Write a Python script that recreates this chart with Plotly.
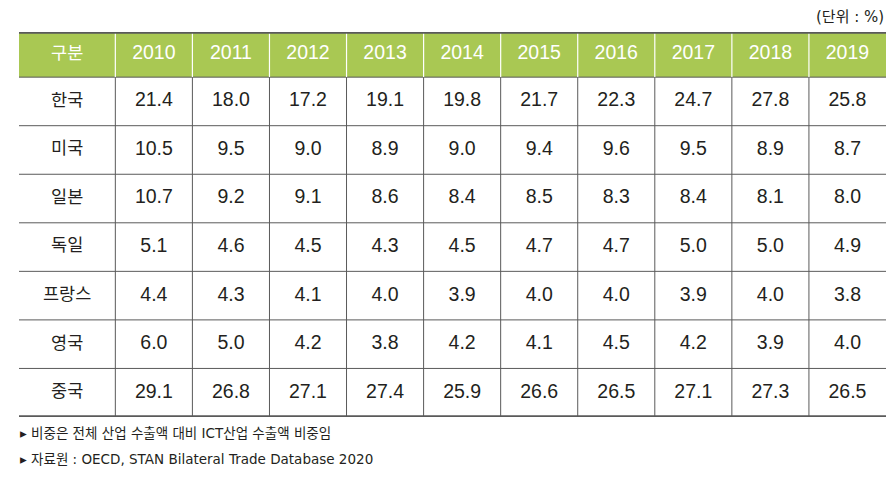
import plotly.graph_objects as go
import numpy as np

header_first = "구분"
years = ["2010", "2011", "2012", "2013", "2014", "2015", "2016", "2017", "2018", "2019"]
countries = ["한국", "미국", "일본", "독일", "프랑스", "영국", "중국"]
korea = [21.4, 18.0, 17.2, 19.1, 19.8, 21.7, 22.3, 24.7, 27.8, 25.8]
usa = [10.5, 9.5, 9.0, 8.9, 9.0, 9.4, 9.6, 9.5, 8.9, 8.7]
japan = [10.7, 9.2, 9.1, 8.6, 8.4, 8.5, 8.3, 8.4, 8.1, 8.0]
germany = [5.1, 4.6, 4.5, 4.3, 4.5, 4.7, 4.7, 5.0, 5.0, 4.9]
france = [4.4, 4.3, 4.1, 4.0, 3.9, 4.0, 4.0, 3.9, 4.0, 3.8]
uk = [6.0, 5.0, 4.2, 3.8, 4.2, 4.1, 4.5, 4.2, 3.9, 4.0]
china = [29.1, 26.8, 27.1, 27.4, 25.9, 26.6, 26.5, 27.1, 27.3, 26.5]
rows = [korea, usa, japan, germany, france, uk, china]
unit_text = "(단위 : %)"
notes = ["비중은 전체 산업 수출액 대비 ICT산업 수출액 비중임",
         "자료원 : OECD, STAN Bilateral Trade Database 2020"]

PAGE_W, PAGE_H = 895, 477
OFF = 8  # default body margin of the html page
W, H = PAGE_W - OFF, PAGE_H - OFF
GREEN = "#a9c853"
LINE = "#5a5a5a"
TEXT = "#231f20"
NUM_FONT = "Liberation Sans, Arial, sans-serif"
KR_FONT = "Noto Sans CJK KR, sans-serif"
NOTE_FONT = "DejaVu Sans, Noto Sans CJK KR, sans-serif"


def px_x(v):
    return (v - OFF) / W


def px_y(v):
    return 1 - (v - OFF) / H


col_widths = [1.25] + [1.0] * len(years)
x_edges = np.concatenate([[0], np.cumsum(col_widths)])
x_centers = (x_edges[:-1] + x_edges[1:]) / 2
row_heights = [0.93] + [1.0] * len(countries)
y_edges = np.concatenate([[0], np.cumsum(row_heights)])
y_centers = (y_edges[:-1] + y_edges[1:]) / 2
XT, YT = x_edges[-1], y_edges[-1]

fig = go.Figure()

fig.add_trace(go.Scatter(x=list(x_centers[1:]), y=[y_centers[0]] * len(years), text=years,
                         mode="text", textfont=dict(family=NUM_FONT, size=19.5, color="white"),
                         hoverinfo="skip", showlegend=False))
fig.add_trace(go.Scatter(x=[x_centers[0]], y=[y_centers[0]], text=[header_first],
                         mode="text", textfont=dict(family=KR_FONT, size=17.5, color="white"),
                         hoverinfo="skip", showlegend=False))
fig.add_trace(go.Scatter(x=[x_centers[0]] * len(countries), y=list(y_centers[1:]), text=countries,
                         mode="text", textfont=dict(family=KR_FONT, size=17.5, color=TEXT),
                         hoverinfo="skip", showlegend=False))
xs, ys, ts = [], [], []
for i, r in enumerate(rows):
    for j, v in enumerate(r):
        xs.append(x_centers[j + 1]); ys.append(y_centers[i + 1]); ts.append(f"{v:.1f}")
fig.add_trace(go.Scatter(x=xs, y=ys, text=ts, mode="text",
                         textfont=dict(family=NUM_FONT, size=19.5, color=TEXT),
                         hoverinfo="skip", showlegend=False))

shapes = []
shapes.append(dict(type="rect", xref="x", yref="y", x0=0, x1=XT, y0=0, y1=y_edges[1],
                   fillcolor=GREEN, line=dict(width=0), layer="below"))
for yv in y_edges[1:-1]:
    shapes.append(dict(type="line", xref="x", yref="y", x0=0, x1=XT, y0=yv, y1=yv,
                       line=dict(color=LINE, width=1)))
for xv in x_edges[1:-1]:
    shapes.append(dict(type="line", xref="x", yref="y", x0=xv, x1=xv, y0=0, y1=y_edges[1],
                       line=dict(color="white", width=1.2)))
    shapes.append(dict(type="line", xref="x", yref="y", x0=xv, x1=xv, y0=y_edges[1], y1=YT,
                       line=dict(color=LINE, width=1)))
shapes.append(dict(type="line", xref="x", yref="y", x0=0, x1=XT, y0=0, y1=0,
                   line=dict(color=LINE, width=3.5)))
shapes.append(dict(type="line", xref="x", yref="y", x0=0, x1=XT, y0=YT, y1=YT,
                   line=dict(color=LINE, width=3.5)))

annotations = [dict(xref="paper", yref="paper", x=px_x(886), y=px_y(17), text=unit_text,
                    showarrow=False, xanchor="right", yanchor="middle",
                    font=dict(family=NOTE_FONT, size=15, color=TEXT))]
for k, n in enumerate(notes):
    annotations.append(dict(xref="paper", yref="paper", x=px_x(18), y=px_y(433 + 26 * k),
                            text="▸ " + n, showarrow=False, xanchor="left", yanchor="middle",
                            font=dict(family=NOTE_FONT, size=13.5, color=TEXT)))

fig.update_layout(
    width=W, height=H, margin=dict(l=0, r=0, t=0, b=0),
    paper_bgcolor="white", plot_bgcolor="white",
    xaxis=dict(domain=[px_x(19), px_x(886)], range=[0, XT], visible=False, fixedrange=True),
    yaxis=dict(domain=[px_y(417), px_y(32)], range=[YT, 0], visible=False, fixedrange=True),
    shapes=shapes, annotations=annotations,
)
fig.write_html("out.html")
